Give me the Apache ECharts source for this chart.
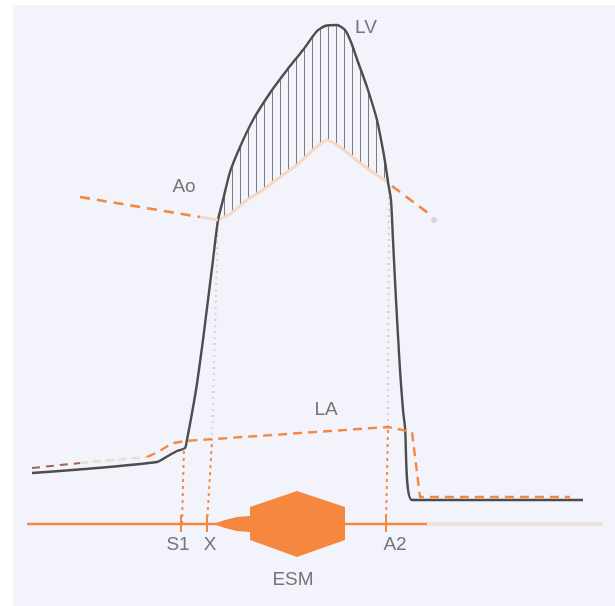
<!DOCTYPE html>
<html><head><meta charset="utf-8">
<script src="https://cdn.jsdelivr.net/npm/echarts@6/dist/echarts.min.js"></script>
<style>html,body{margin:0;padding:0;background:#fff}#c{width:615px;height:606px}</style>
</head><body><div id="c"></div>
<script>
// time (x) and pressure (y, up) units
const lvX = [32,85,157,168,177,185,187,196,203,208,213,218,223,230,240,253,270,287,303,317,325,337,345,351,358,367,377,383,386,388,391,393,396,400,403,405,412,583];
const lvY = [133,137,144,150,155,158,166,216,266,306,346,386,406,434,459,486,513,536,556,575,580,581,576,564,544,519,486,456,438,424,406,366,306,236,196,179,106,106];
const aoEjX = [218,230,247,263,280,297,313,327,340,350,360,374,388];
const aoEjY = [386,392,406,416,429,441,456,466,459,451,443,433,424];
const aoPreX = [80,200]; const aoPreY = [409,389];
const aoPaleX = [200,218]; const aoPaleY = [389,386];
const aoPostX = [392,428]; const aoPostY = [420,393];
const aoEnd = [434,386];
const laEarlyX = [32,80]; const laEarlyY = [138,143];
const laPaleX = [80,147]; const laPaleY = [143,149];
const laX = [147,158,166,174,185,388,412,420,570];
const laY = [149,154,159,163,165,179,174,109,109];
const phonoX = [27,427]; const phonoY = [82,82];
const phonoFadeX = [427,603]; const phonoFadeY = [82,82];
const markX = [181,207,386]; const markLo = 74; const markHi = 91;
const s1LineX = [182,184]; const s1LineY = [82,159];
const xLineX = [207,212]; const xLineY = [82,165];
const xPaleX = [212,218]; const xPaleY = [165,386];
const a2LineX = [386,388]; const a2LineY = [82,179];
const a2PaleX = [388,389]; const a2PaleY = [179,422];
const murmurX = [213,225,237,250,250,297,345,345,297,250,250,237,225];
const murmurY = [82,86,89,90,99,115,99,66,49,66,74,75,78];
const labelNames = ['LV','Ao','LA','S1','X','A2','ESM'];
const labelX = [366,184,326,178,210,395,293];
const labelY = [578,419,196,61,61,61,26];

const zip = (xs, ys) => xs.map((x, i) => [x, ys[i]]);
const ORANGE = '#f5873f';
const chart = echarts.init(document.getElementById('c'), null, {renderer: 'canvas'});

const hatchCanvas = document.createElement('canvas');
hatchCanvas.width = 8; hatchCanvas.height = 8;
const hc = hatchCanvas.getContext('2d');
hc.fillStyle = 'rgba(95,95,95,0.8)';
hc.fillRect(0, 0, 1, 8);

const lvPts = zip(lvX, lvY);
const aoEjPts = zip(aoEjX, aoEjY);
const hatchPoly = lvPts.filter(p => p[0] >= aoEjX[0] && p[0] <= aoEjX[aoEjX.length - 1]).concat(aoEjPts.slice().reverse());

function lineSeries(data, color, width, type, extra) {
  return Object.assign({type: 'line', data: data, showSymbol: false, symbol: 'none', silent: true, animation: false,
    lineStyle: {color: color, width: width, type: type || 'solid', cap: 'butt', join: 'round'}}, extra || {});
}

const series = [
  {type: 'custom', silent: true, animation: false, data: [[0, 0]], z: 1,
    renderItem: function (params, api) {
      return {type: 'polygon', shape: {points: hatchPoly.map(p => api.coord(p)), smooth: 0},
        style: {fill: {image: hatchCanvas, repeat: 'repeat'}, stroke: null}};
    }},
  lineSeries(aoEjPts, '#f7d8c2', 3, 'solid', {z: 2, smooth: 0.2}),
  lineSeries(zip(xPaleX, xPaleY), '#e3cfc4', 2, [2, 4], {z: 2}),
  lineSeries(zip(a2PaleX, a2PaleY), '#d9cfcf', 2, [2, 4], {z: 2}),
  lineSeries(zip(laEarlyX, laEarlyY), '#a0664e', 2, [8, 6], {z: 3}),
  lineSeries(zip(laPaleX, laPaleY), '#e8ddd2', 2.5, [8, 5], {z: 3}),
  lineSeries(lvPts, '#4d4d4d', 2.4, 'solid', {z: 4, smooth: 0.2}),
  lineSeries(zip(laX, laY), ORANGE, 2.4, [9, 6], {z: 5}),
  lineSeries(zip(aoPreX, aoPreY), ORANGE, 2.6, [10, 7], {z: 5}),
  lineSeries(zip(aoPaleX, aoPaleY), '#f3d6c5', 2.6, 'solid', {z: 5}),
  lineSeries(zip(aoPostX, aoPostY), ORANGE, 2.6, [10, 7], {z: 5}),
  {type: 'scatter', data: [aoEnd], symbolSize: 6, silent: true, animation: false, itemStyle: {color: '#cfcfd3'}, z: 5},
  lineSeries(zip(s1LineX, s1LineY), ORANGE, 2, [3, 4], {z: 5}),
  lineSeries(zip(xLineX, xLineY), ORANGE, 2, [3, 4], {z: 5}),
  lineSeries(zip(a2LineX, a2LineY), ORANGE, 2, [3, 4], {z: 5}),
  lineSeries(zip(phonoFadeX, phonoFadeY), '#ece4dc', 4, 'solid', {z: 5}),
  lineSeries(zip(phonoX, phonoY), ORANGE, 2.4, 'solid', {z: 6}),
  {type: 'custom', silent: true, animation: false, data: markX.map(x => [x, markLo, markHi]), z: 6,
    renderItem: function (params, api) {
      const a = api.coord([api.value(0), api.value(1)]);
      const b = api.coord([api.value(0), api.value(2)]);
      return {type: 'line', shape: {x1: a[0], y1: a[1], x2: b[0], y2: b[1]}, style: {stroke: ORANGE, lineWidth: 2}};
    }},
  {type: 'custom', silent: true, animation: false, data: [[0, 0]], z: 7,
    renderItem: function (params, api) {
      return {type: 'polygon', shape: {points: zip(murmurX, murmurY).map(p => api.coord(p))},
        style: {fill: ORANGE, stroke: null}};
    }},
  {type: 'scatter', symbolSize: 0, silent: true, animation: false, z: 8,
    data: labelNames.map((n, i) => ({name: n, value: [labelX[i], labelY[i]]})),
    label: {show: true, position: 'inside', formatter: '{b}', color: '#555', fontSize: 19,
      fontFamily: 'Liberation Sans, Arial, sans-serif'}}
];

chart.setOption({
  backgroundColor: '#ffffff',
  animation: false,
  graphic: [{type: 'rect', shape: {x: 13, y: 5, width: 602, height: 601}, style: {fill: '#f2f3fb'}, z: -10, silent: true}],
  grid: {left: 0, right: 0, top: 0, bottom: 0},
  xAxis: {type: 'value', min: 0, max: 615, show: false},
  yAxis: {type: 'value', min: 0, max: 606, show: false},
  series: series
});
</script></body></html>
